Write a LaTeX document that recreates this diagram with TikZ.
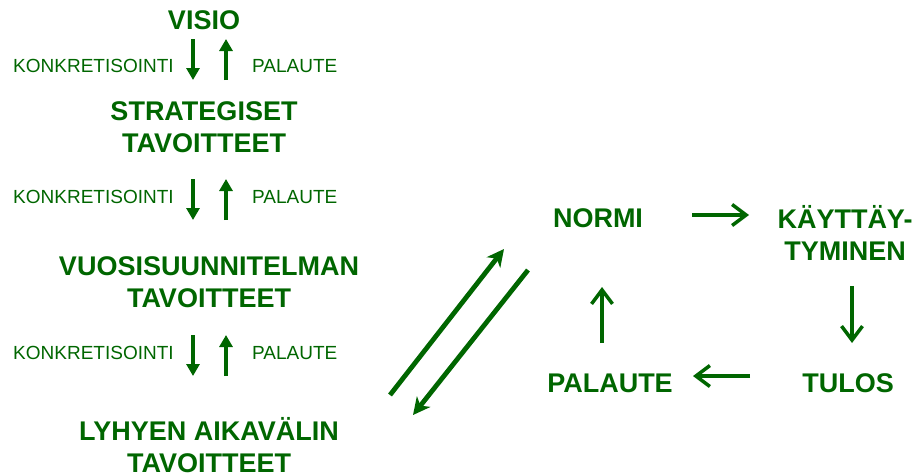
\documentclass[tikz,border=0pt]{standalone}
\usepackage{fontspec}
\setmainfont{Liberation Sans}
\usetikzlibrary{arrows.meta}
\definecolor{dgreen}{RGB}{0,102,0}
\begin{document}
\begin{tikzpicture}[x=1pt,y=-1pt,
  big/.style={font=\fontsize{27}{31.5}\selectfont\bfseries, text=dgreen, inner sep=0pt, align=center, anchor=base},
  small/.style={font=\fontsize{19}{22}\selectfont, text=dgreen, inner sep=0pt, anchor=base west},
  vfill/.style={draw=dgreen, line width=4pt, -{Triangle[length=12pt,width=13pt]}},
  cyc/.style={draw=dgreen, line width=3.5pt, -{Straight Barb[length=14pt,width=21pt]}},
  diag/.style={draw=dgreen, line width=4.8pt, -{Stealth[length=17pt,width=17pt,inset=5pt]}}
]
\useasboundingbox (0,0) rectangle (920,475);

% left column (multi-line nodes: base = baseline of last line)
\node[big] (visio) at (204,29) {VISIO};
\node[big] (strat) at (204,152) {STRATEGISET\\TAVOITTEET};
\node[big] (vuosi) at (209,307) {VUOSISUUNNITELMAN\\TAVOITTEET};
\node[big] (lyhyt) at (209,472) {LYHYEN AIKAVÄLIN\\TAVOITTEET};

\node[small] (k1) at (13,72) {KONKRETISOINTI};
\node[small] (p1) at (252,72) {PALAUTE};
\node[small] (k2) at (13,203) {KONKRETISOINTI};
\node[small] (p2) at (252,203) {PALAUTE};
\node[small] (k3) at (13,359) {KONKRETISOINTI};
\node[small] (p3) at (252,359) {PALAUTE};

\coordinate (d1a) at (193,39);  \coordinate (d1b) at (193,80);
\coordinate (u1a) at (226,80);  \coordinate (u1b) at (226,39);
\coordinate (d2a) at (193,179); \coordinate (d2b) at (193,220);
\coordinate (u2a) at (226,220); \coordinate (u2b) at (226,179);
\coordinate (d3a) at (193,335); \coordinate (d3b) at (193,376);
\coordinate (u3a) at (226,376); \coordinate (u3b) at (226,335);
\draw[vfill] (d1a) -- (d1b);
\draw[vfill] (u1a) -- (u1b);
\draw[vfill] (d2a) -- (d2b);
\draw[vfill] (u2a) -- (u2b);
\draw[vfill] (d3a) -- (d3b);
\draw[vfill] (u3a) -- (u3b);

% diagonal arrows
\coordinate (g1a) at (390,395); \coordinate (g1b) at (504,249);
\coordinate (g2a) at (528,270); \coordinate (g2b) at (413,415);
\draw[diag] (g1a) -- (g1b);
\draw[diag] (g2a) -- (g2b);

% right cycle
\node[big] (normi) at (598,227) {NORMI};
\node[big] (kayt) at (845,260) {KÄYTTÄY-\\TYMINEN};
\node[big] (tulos) at (848,392) {TULOS};
\node[big] (pal) at (610,392) {PALAUTE};

\coordinate (r1a) at (692,215); \coordinate (r1b) at (749,215);
\coordinate (r2a) at (852,286); \coordinate (r2b) at (852,343);
\coordinate (r3a) at (750,376); \coordinate (r3b) at (693,376);
\coordinate (r4a) at (602,343); \coordinate (r4b) at (602,287);
\draw[cyc] (r1a) -- (r1b);
\draw[cyc] (r2a) -- (r2b);
\draw[cyc] (r3a) -- (r3b);
\draw[cyc] (r4a) -- (r4b);
\end{tikzpicture}
\end{document}
